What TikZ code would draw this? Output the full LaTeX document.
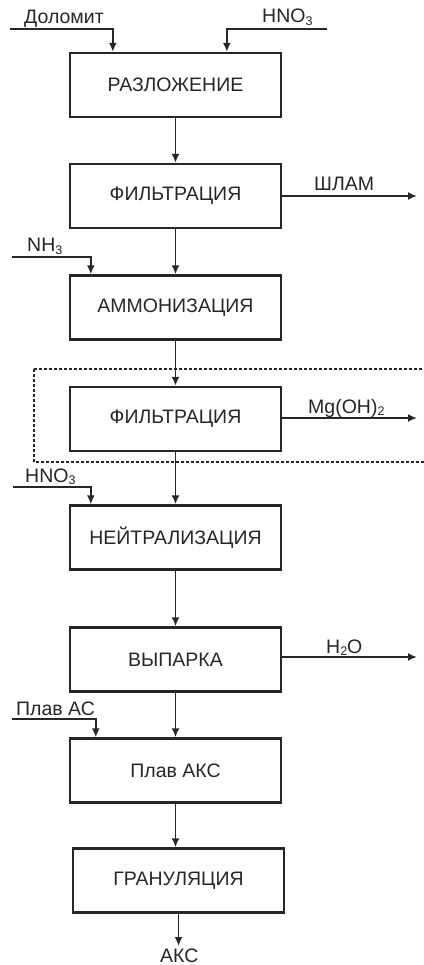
\documentclass[tikz,border=0pt]{standalone}
\usepackage{fontspec}
\setmainfont{Liberation Sans}
\usetikzlibrary{arrows.meta,calc}
\newcommand\chsub[1]{\raisebox{-0.12em}{\fontsize{12.5}{13}\selectfont #1}}
\begin{document}
\begin{tikzpicture}[x=1pt,y=-1pt,
  box/.style={draw, line width=2.4pt, draw=black!85, minimum width=211pt, minimum height=64pt, inner sep=0pt, text=black!85, font=\fontsize{19.5}{22}\selectfont},
  lbl/.style={inner sep=0pt, anchor=base west, text=black!85, font=\fontsize{19.5}{22}\selectfont},
  flow/.style={line width=1.8pt, draw=black!85, -{Latex[length=9pt,width=8pt]}},
  dashbox/.style={line width=1.4pt, draw=black!85, dash pattern=on 3pt off 2pt}]
\useasboundingbox (0,0) rectangle (423,965);
\node[box] (b1) at (175.5,85) {РАЗЛОЖЕНИЕ};
\node[box] (b2) at (175.5,196) {ФИЛЬТРАЦИЯ};
\node[box] (b3) at (175.5,307.5) {АММОНИЗАЦИЯ};
\node[box] (b4) at (175.5,419) {ФИЛЬТРАЦИЯ};
\node[box] (b5) at (175.5,537.5) {НЕЙТРАЛИЗАЦИЯ};
\node[box] (b6) at (175.5,659.5) {ВЫПАРКА};
\node[box] (b7) at (175.5,770.5) {Плав АКС};
\node[box] (b8) at (178.5,880.5) {ГРАНУЛЯЦИЯ};
\draw[dashbox] (34,369) -- (430,369) (34,369) -- (34,462) -- (430,462);
% inputs
\coordinate (d1) at (10,29);
\coordinate (h1) at (327,29);
\coordinate (n1) at (12,257);
\coordinate (h2) at (13,487);
\coordinate (p1) at (12,719);
\node[lbl] (ld1) at (24,24) {Доломит};
\node[lbl] (lh1) at (262,23) {HNO\chsub{3}};
\node[lbl] (ln1) at (27,252) {NH\chsub{3}};
\node[lbl] (lh2) at (25,482) {HNO\chsub{3}};
\node[lbl] (lp1) at (16,715) {Плав АС};
\draw[flow] (d1) -| ([xshift=44pt]b1.north west);
\draw[flow] (h1) -| ([xshift=158pt]b1.north west);
\draw[flow] (n1) -| ([xshift=22pt]b3.north west);
\draw[flow] (h2) -| ([xshift=22pt]b5.north west);
\draw[flow] (p1) -| ([xshift=27pt]b7.north west);
% main chain
\draw[flow] (b1.south) -- (b2.north);
\draw[flow] (b2.south) -- (b3.north);
\draw[flow] (b3.south) -- (b4.north);
\draw[flow] (b4.south) -- (b5.north);
\draw[flow] (b5.south) -- (b6.north);
\draw[flow] (b6.south) -- (b7.north);
\draw[flow] (b7.south) -- (b7.south |- b8.north);
% outputs
\coordinate (o2) at (417,196);
\coordinate (o4) at (417,418);
\coordinate (o6) at (417,657);
\coordinate (o8) at (178.5,946);
\draw[flow] (b2.east) -- (o2);
\draw[flow] (b4.east |- o4) -- (o4);
\draw[flow] (b6.east |- o6) -- (o6);
\draw[flow] (b8.south) -- (o8);
\node[lbl] (lo2) at (314,191) {ШЛАМ};
\node[lbl] (lo4) at (308,413) {Mg(OH)\chsub{2}};
\node[lbl] (lo6) at (326,653) {H\chsub{2}O};
\node[lbl] (lo8) at (160,962) {АКС};
\end{tikzpicture}
\end{document}
